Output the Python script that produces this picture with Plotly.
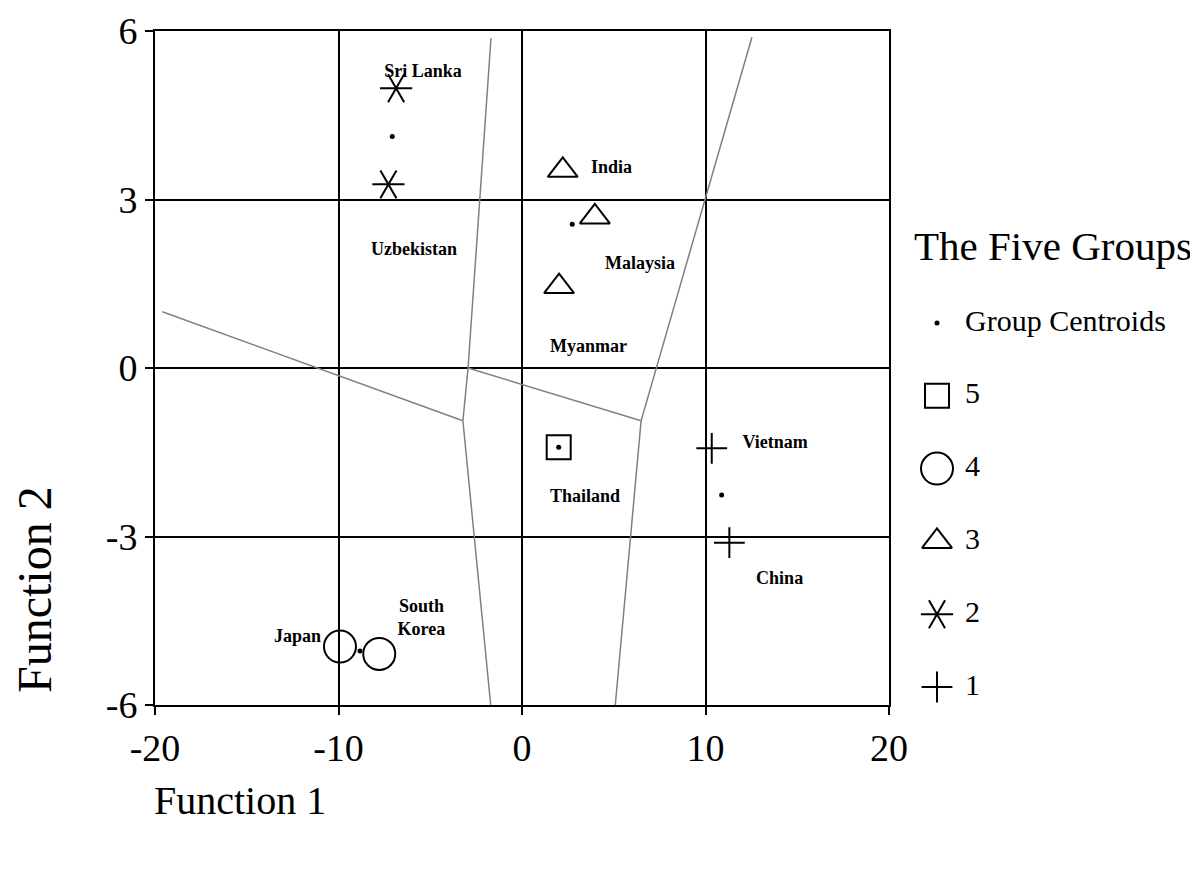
import plotly.graph_objects as go

# ---------------- data ----------------
countries = ["Sri Lanka", "Uzbekistan", "India", "Malaysia", "Myanmar",
             "Thailand", "Vietnam", "China", "Japan", "South Korea"]
group = [2, 2, 3, 3, 3, 5, 1, 1, 4, 4]
func1 = [-6.86, -7.28, 2.22, 3.97, 2.02, 2.00, 10.34, 11.30, -9.92, -7.78]
func2 = [4.98, 3.27, 3.52, 2.69, 1.45, -1.41, -1.43, -3.11, -4.96, -5.09]

centroid_groups = [1, 2, 3, 4, 5]
centroid_f1 = [10.88, -7.07, 2.74, -8.83, 2.00]
centroid_f2 = [-2.26, 4.12, 2.56, -5.04, -1.41]

label_text = ["Sri Lanka", "Uzbekistan", "India", "Malaysia", "Myanmar",
              "Thailand", "Vietnam", "China", "Japan", "South<br>Korea"]
label_f1 = [-5.40, -5.89, 4.88, 6.43, 3.62, 3.43, 13.79, 14.04, -12.23, -5.48]
label_f2 = [5.27, 2.10, 3.56, 1.85, 0.37, -2.30, -1.34, -3.77, -4.79, -4.47]

# territorial map boundaries
boundary_f1 = [[-19.6, -3.22], [-1.69, -2.94, -3.22, -1.69], [-2.94, 6.49], [12.53, 6.49, 5.07]]
boundary_f2 = [[1.00, -0.94], [5.87, 0.00, -0.94, -6.05], [0.00, -0.94], [5.89, -0.94, -6.05]]

x_ticks = [-20, -10, 0, 10, 20]
x_tick_labels = ["-20", "-10", "0", "10", "20"]
y_ticks = [-6, -3, 0, 3, 6]
y_tick_labels = ["-6", "-3", "0", "3", "6"]

legend_title = "The Five Groups"
legend_labels = ["Group Centroids", "5", "4", "3", "2", "1"]
legend_groups = [None, 5, 4, 3, 2, 1]

# ---------------- styles ----------------
FONT = "Liberation Serif"
symbol_layers = {
    1: [("cross-thin-open", 0)],
    2: [("line-ew-open", 0), ("line-ew-open", 60), ("line-ew-open", -60)],
    3: [("triangle-up-open", 0)],
    4: [("circle-open", 0)],
    5: [("square-open", 0)],
}
symbol_size = {1: 22, 2: 23, 3: 26, 4: 32, 5: 24}

fig = go.Figure()

# boundaries
for bx, by in zip(boundary_f1, boundary_f2):
    fig.add_trace(go.Scatter(x=bx, y=by, mode="lines",
                             line=dict(color="#808080", width=1.5),
                             showlegend=False, hoverinfo="skip"))

# cases
for g in [1, 2, 3, 4, 5]:
    xs = [x for x, gg in zip(func1, group) if gg == g]
    ys = [y for y, gg in zip(func2, group) if gg == g]
    for sym, ang in symbol_layers[g]:
        fig.add_trace(go.Scatter(
            x=xs, y=ys, mode="markers", showlegend=False,
            marker=dict(symbol=sym, angle=ang, size=symbol_size[g], color="black",
                        line=dict(color="black", width=2))))

# centroids
fig.add_trace(go.Scatter(x=centroid_f1, y=centroid_f2, mode="markers", showlegend=False,
                         marker=dict(symbol="circle", size=5, color="black")))

# country labels
fig.add_trace(go.Scatter(x=label_f1, y=label_f2, mode="text", text=label_text,
                         textposition="middle center", showlegend=False,
                         textfont=dict(family=FONT, size=18, color="black", weight="bold")))

# ---------------- manual legend (axes in page-pixel units) ----------------
row_y = [323 + 72.8 * i for i in range(len(legend_labels))]
marker_x = 937
text_x = 965
for ry, g in zip(row_y, legend_groups):
    if g is None:
        fig.add_trace(go.Scatter(x=[marker_x], y=[ry], xaxis="x2", yaxis="y2", mode="markers",
                                 showlegend=False, marker=dict(symbol="circle", size=5, color="black")))
    else:
        for sym, ang in symbol_layers[g]:
            fig.add_trace(go.Scatter(
                x=[marker_x], y=[ry], xaxis="x2", yaxis="y2", mode="markers", showlegend=False,
                marker=dict(symbol=sym, angle=ang, size=symbol_size[g], color="black",
                            line=dict(color="black", width=2))))
fig.add_trace(go.Scatter(x=[text_x] * len(legend_labels), y=row_y, xaxis="x2", yaxis="y2",
                         mode="text", text=legend_labels, textposition="middle right",
                         showlegend=False, textfont=dict(family=FONT, size=30, color="black")))

# page body has an 8px margin; figure coordinates are page coordinates minus OFF
OFF = 8
PAGE_W, PAGE_H = 1198, 879
W, H = PAGE_W - OFF, PAGE_H - OFF
PLOT_L, PLOT_T, PLOT_R, PLOT_B = 155, 31, 889, 705   # page pixels
ML, MT = PLOT_L - OFF, PLOT_T - OFF
MR = 0
MB = H - (PLOT_B - OFF)
pw = W - ML - MR
ph = H - MT - MB

axis_common = dict(showgrid=True, gridcolor="black", gridwidth=2,
                   zeroline=True, zerolinecolor="black", zerolinewidth=2,
                   showline=True, linecolor="black", linewidth=2, mirror=True,
                   ticks="outside", ticklen=8, tickwidth=1.5, tickcolor="black",
                   automargin=False,
                   tickfont=dict(family=FONT, size=38, color="black"))

def px_x(page_x):
    return (page_x - PLOT_L) / pw

def px_y(page_y):
    return (PLOT_B - page_y) / ph

fig.update_layout(
    width=W, height=H,
    margin=dict(l=ML, r=MR, t=MT, b=MB, autoexpand=False),
    paper_bgcolor="white", plot_bgcolor="white",
    xaxis=dict(range=[-20, 20], tickvals=x_ticks, ticktext=x_tick_labels,
               domain=[0, px_x(PLOT_R)], **axis_common),
    yaxis=dict(range=[-6, 6], tickvals=y_ticks, ticktext=y_tick_labels, **axis_common),
    xaxis2=dict(domain=[px_x(900), 1], range=[900, PAGE_W], visible=False, anchor="y2"),
    yaxis2=dict(domain=[0, 1], range=[PLOT_B, PLOT_T], visible=False, anchor="x2"),
    annotations=[
        dict(text=legend_title, x=912, y=246, xref="x2", yref="y2", xanchor="left",
             yanchor="middle", showarrow=False, font=dict(family=FONT, size=41, color="black")),
        dict(text="Function 2", x=px_x(34), y=px_y(590), xref="paper", yref="paper",
             textangle=-90, showarrow=False, xanchor="center", yanchor="middle",
             font=dict(family=FONT, size=48, color="black")),
        dict(text="Function 1", x=px_x(152), y=px_y(800), xref="paper", yref="paper",
             showarrow=False, xanchor="left", yanchor="middle",
             font=dict(family=FONT, size=40, color="black")),
    ],
    showlegend=False,
)

fig.write_html("out.html")
